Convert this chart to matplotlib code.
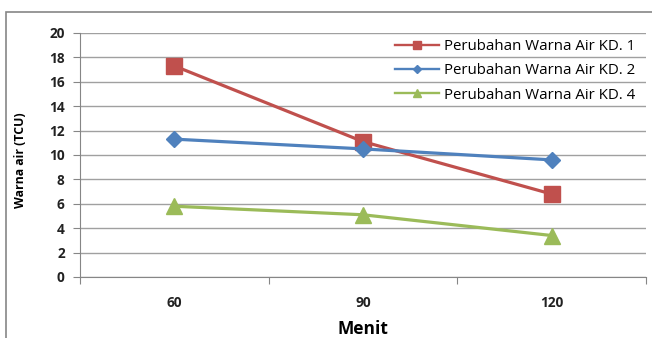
import numpy as np
import matplotlib
matplotlib.use("Agg")
import matplotlib.pyplot as plt
from matplotlib.patches import Rectangle

plt.rcParams['font.family'] = ['Open Sans', 'DejaVu Sans']

# ------------------------------------------------------------
# data
menit = ['60', '90', '120']
kd1 = [17.3, 11.1, 6.8]
kd2 = [11.3, 10.5, 9.6]
kd4 = [5.8, 5.1, 3.4]
labels = ['Perubahan Warna Air KD. 1', 'Perubahan Warna Air KD. 2',
          'Perubahan Warna Air KD. 4']

# ------------------------------------------------------------
fig = plt.figure(figsize=(6.52, 3.38), dpi=100)
ax = fig.add_axes([80/652, 1 - 277/338, (646 - 80)/652, (277 - 33)/338])

# cadre exterieur (style Excel)
fig.patches.append(Rectangle((6/652, -0.1), 1.2, 1 - 12/338 + 0.1,
                             transform=fig.transFigure, fill=False,
                             ec='#868686', lw=1.2))

x = np.arange(len(menit))
ax.plot(x, kd1, color='#C0504D', lw=2.3, marker='s', ms=11.5, label=labels[0])
ax.plot(x, kd2, color='#4F81BD', lw=2.3, marker='D', ms=8.5, label=labels[1])
ax.plot(x, kd4, color='#9BBB59', lw=2.3, marker='^', ms=11.5, label=labels[2])

ax.set_xlim(-0.5, len(menit) - 0.5)
ax.set_ylim(0, 20)
ax.set_yticks(np.arange(0, 21, 2))
ax.yaxis.grid(True, color='#a0a0a0', lw=1)
ax.set_axisbelow(True)

# ticks de categories : marques entre les categories, labels au centre
ax.set_xticks(np.arange(-0.5, len(menit), 1.0))
ax.set_xticklabels([])
ax.set_xticks(x, minor=True)
ax.set_xticklabels(menit, minor=True, fontsize=9.8, fontweight='bold', color='#222222')
ax.tick_params(axis='x', which='minor', length=0, pad=14)
ax.tick_params(axis='x', which='major', length=5, color='#868686')
ax.tick_params(axis='y', length=5, color='#868686', labelsize=9.8,
               labelcolor='#222222', pad=6)
for t in ax.get_yticklabels():
    t.set_fontweight('bold')

for s in ['top', 'right']:
    ax.spines[s].set_visible(False)
for s in ['left', 'bottom']:
    ax.spines[s].set_color('#868686')

ax.set_ylabel('Warna air (TCU)', fontsize=8.8, fontweight='bold')
ax.yaxis.set_label_coords(-0.093, 0.48)
ax.set_xlabel('Menit', fontsize=12.5, fontweight='bold', labelpad=7)

leg = ax.legend(loc='upper left', bbox_to_anchor=(395/652, 1 - 39/338),
                bbox_transform=fig.transFigure, frameon=False, fontsize=10.8,
                handlelength=2.9, handletextpad=0.35, labelspacing=0.62,
                markerscale=0.5, borderaxespad=0, borderpad=0)
for h in leg.get_lines():
    h.set_linewidth(1.7)

plt.savefig('out.png', dpi=100)
